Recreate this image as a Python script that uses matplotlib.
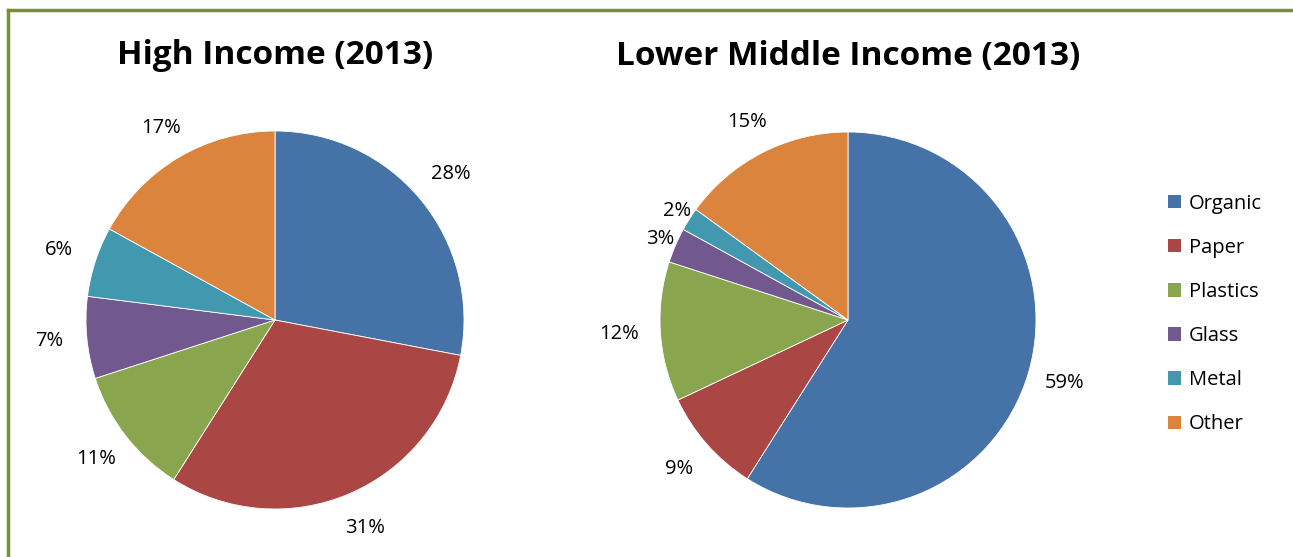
import numpy as np
import matplotlib.pyplot as plt
from matplotlib.patches import Patch
from matplotlib.lines import Line2D

categories = ['Organic', 'Paper', 'Plastics', 'Glass', 'Metal', 'Other']
high_income = [28, 31, 11, 7, 6, 17]
lower_middle = [59, 9, 12, 3, 2, 15]
colors = ['#4572A7', '#AA4643', '#89A54E', '#71588F', '#4198AF', '#DB843D']

# label distance per wedge (small slices sit closer, like excel best fit)
dist_high = [1.21, 1.2, 1.2, 1.2, 1.2, 1.18]
dist_low = [1.2, 1.2, 1.22, 1.09, 1.08, 1.18]

plt.rcParams['font.family'] = ['Open Sans', 'DejaVu Sans']

fig = plt.figure(figsize=(12.93, 5.57), dpi=100)
W, H = 1293, 557


def draw_pie(cx, cy, r, values, dists, title):
    ax = fig.add_axes([(cx - r) / W, 1 - (cy + r) / H, 2 * r / W, 2 * r / H])
    wedges, _ = ax.pie(values, colors=colors, startangle=90, counterclock=False,
                       radius=1, wedgeprops=dict(linewidth=0.6, edgecolor='white'))
    for w, v, d in zip(wedges, values, dists):
        ang = np.deg2rad((w.theta1 + w.theta2) / 2)
        ax.text(d * np.cos(ang), d * np.sin(ang), f'{v}%', ha='center', va='center',
                fontsize=14.5, color='black')
    ax.set_xlim(-1, 1)
    ax.set_ylim(-1, 1)
    ax.set_aspect('equal')
    ax.axis('off')
    fig.text(cx / W, 1 - 56 / H, title, ha='center', va='center',
             fontsize=24, fontweight='bold')
    return ax


draw_pie(275, 320, 189, high_income, dist_high, 'High Income (2013)')
draw_pie(848, 320, 188, lower_middle, dist_low, 'Lower Middle Income (2013)')

handles = [Patch(facecolor=c, edgecolor='none') for c in colors]
fig.legend(handles, categories, loc='center left', bbox_to_anchor=(1168 / W, 1 - 314 / H),
           frameon=False, fontsize=14.5, handlelength=0.65, handleheight=0.65,
           handletextpad=0.4, labelspacing=1.2, borderaxespad=0, borderpad=0)

# olive border, top and left only
fig.add_artist(Line2D([8 / W, 8 / W], [0, 1 - 10 / H], color='#7A9030', lw=2.5,
                      transform=fig.transFigure))
fig.add_artist(Line2D([8 / W, 1], [1 - 10 / H, 1 - 10 / H], color='#7A9030', lw=2.5,
                      transform=fig.transFigure))

fig.savefig('out.png', dpi=100)
